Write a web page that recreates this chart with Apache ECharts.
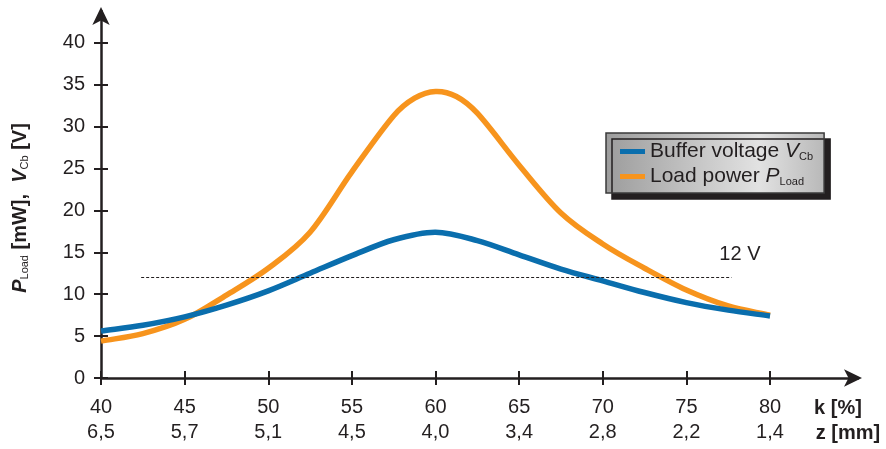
<!DOCTYPE html>
<html><head><meta charset="utf-8">
<script src="https://cdn.jsdelivr.net/npm/echarts@6/dist/echarts.min.js"></script>
<style>html,body{margin:0;padding:0;background:#fff}#c{width:886px;height:449px}</style>
</head><body><div id="c"></div>
<script>
// ---- data ----
const kVoltage = [40, 42.5, 45, 47.5, 50, 52.5, 55, 57.5, 60, 62.5, 65, 67.5, 70, 72.5, 75, 77.5, 80];
const bufferVoltage = [5.6, 6.3, 7.3, 8.7, 10.4, 12.5, 14.6, 16.5, 17.4, 16.4, 14.7, 13.0, 11.6, 10.2, 9.0, 8.1, 7.4];
const kPower = [40, 42.5, 45, 47.5, 50, 52.5, 55, 57.5, 58.75, 60, 61.25, 62.5, 65, 67.5, 70, 72.5, 75, 77.5, 80];
const loadPower = [4.4, 5.3, 7.0, 9.9, 13.1, 17.4, 24.6, 31.3, 33.4, 34.2, 33.6, 31.6, 25.4, 19.7, 16.0, 13.1, 10.5, 8.6, 7.5];
const kTicks = [40, 45, 50, 55, 60, 65, 70, 75, 80];
const zLabels = ['6,5', '5,7', '5,1', '4,5', '4,0', '3,4', '2,8', '2,2', '1,4'];
const yTicks = [0, 5, 10, 15, 20, 25, 30, 35, 40];
const thresholdLine = { value: 12, from: 42.4, to: 77.7, label: '12 V', labelAt: 78.2 };
const seriesNames = ['Buffer voltage', 'Load power'];

const FONT = '"Liberation Sans", Arial, sans-serif';
const INK = '#231f20';
const BLUE = '#0a6ead';
const ORANGE = '#f7941d';

const chart = echarts.init(document.getElementById('c'));
const xMin = 40, xMax = 85.26, yMin = 0, yMax = 43.8;

const pair = (xs, ys) => xs.map((x, i) => [x, ys[i]]);

// smooth curve through the data points, placed by the axes (api.coord)
function splinePath(api, xs, ys) {
  const pts = xs.map((x, i) => api.coord([x, ys[i]]));
  const n = pts.length;
  const m = pts.map((p, i) => {
    const a = pts[Math.max(0, i - 1)], b = pts[Math.min(n - 1, i + 1)];
    return (b[1] - a[1]) / (b[0] - a[0]);
  });
  let d = 'M' + pts[0][0] + ' ' + pts[0][1];
  for (let i = 0; i < n - 1; i++) {
    const p = pts[i], q = pts[i + 1], h = (q[0] - p[0]) / 3;
    d += ' C' + (p[0] + h) + ' ' + (p[1] + m[i] * h) + ' ' + (q[0] - h) + ' ' + (q[1] - m[i + 1] * h) + ' ' + q[0] + ' ' + q[1];
  }
  return d;
}
function curveSeries(name, xs, ys, color) {
  return {
    name, type: 'custom', data: pair(xs, ys), encode: { x: 0, y: 1 },
    itemStyle: { color }, silent: true,
    renderItem: (params, api) => params.dataIndex !== 0 ? null : {
      type: 'path',
      shape: { pathData: splinePath(api, xs, ys) },
      style: { fill: 'none', stroke: color, lineWidth: 5.5, lineJoin: 'round' }
    }
  };
}

const option = {
  animation: false,
  backgroundColor: '#fff',
  grid: { left: 101, right: 28, top: 11, bottom: 71, containLabel: false },
  xAxis: [{
    type: 'value', min: xMin, max: xMax, interval: 5,
    splitLine: { show: false },
    axisLine: { show: true, onZero: false, lineStyle: { color: INK, width: 2.5 }, symbol: ['none', 'arrow'], symbolSize: [13, 18], symbolOffset: [0, 4] },
    axisTick: { show: true, inside: false, length: 7, lineStyle: { color: INK, width: 2 }, customValues: kTicks },
    axisLabel: {
      customValues: kTicks, margin: 17, color: INK, fontFamily: FONT, fontSize: 20, lineHeight: 25,
      formatter: v => { const i = kTicks.indexOf(v); return i < 0 ? '' : v + '\n' + zLabels[i]; }
    }
  }, {
    type: 'value', min: xMin, max: xMax, position: 'bottom', show: true,
    splitLine: { show: false },
    axisLine: { show: false, onZero: false },
    axisTick: { show: true, inside: true, length: 7, lineStyle: { color: INK, width: 2 }, customValues: kTicks },
    axisLabel: { show: false }
  }],
  yAxis: [{
    type: 'value', min: yMin, max: yMax, interval: 5,
    splitLine: { show: false },
    axisLine: { show: true, onZero: false, lineStyle: { color: INK, width: 2.5 }, symbol: ['none', 'arrow'], symbolSize: [13, 18], symbolOffset: [0, 4] },
    axisTick: { show: true, inside: false, length: 7, lineStyle: { color: INK, width: 2 }, customValues: yTicks },
    axisLabel: { customValues: yTicks, margin: 16, color: INK, fontFamily: FONT, fontSize: 20 }
  }, {
    type: 'value', min: yMin, max: yMax, position: 'left', show: true,
    splitLine: { show: false },
    axisLine: { show: false, onZero: false },
    axisTick: { show: true, inside: true, length: 7, lineStyle: { color: INK, width: 2 }, customValues: yTicks },
    axisLabel: { show: false }
  }],
  legend: {
    left: 606, top: 133, orient: 'vertical',
    data: [seriesNames[0], seriesNames[1]],
    icon: 'rect', itemWidth: 25, itemHeight: 5, itemGap: 4,
    padding: [8, 11, 6, 14],
    borderColor: '#3a3a3a', borderWidth: 1.5, borderRadius: 0,
    backgroundColor: new echarts.graphic.LinearGradient(0, 0, 1, 0, [
      { offset: 0, color: '#9c9c9c' }, { offset: 0.7, color: '#e2e2e2' }, { offset: 1, color: '#b8b8b8' }
    ]),
    shadowColor: '#231f20', shadowBlur: 0.01, shadowOffsetX: 6, shadowOffsetY: 6,
    textStyle: {
      color: INK, fontFamily: FONT, fontSize: 21,
      rich: {
        t: { fontFamily: FONT, fontSize: 21, color: INK },
        i: { fontFamily: FONT, fontSize: 21, fontStyle: 'italic', color: INK },
        s: { fontFamily: FONT, fontSize: 11, color: INK, verticalAlign: 'bottom', padding: [9, 0, 0, 0] }
      }
    },
    formatter: n => n === seriesNames[0] ? '{t|Buffer voltage }{i|V}{s|Cb}' : '{t|Load power }{i|P}{s|Load}'
  },
  series: [
    curveSeries(seriesNames[1], kPower, loadPower, ORANGE),
    curveSeries(seriesNames[0], kVoltage, bufferVoltage, BLUE),
    {
      name: 'threshold', type: 'line', data: [], silent: true,
      markLine: {
        silent: true, symbol: ['none', 'none'], animation: false,
        lineStyle: { color: INK, type: [3, 2], width: 1 },
        label: { show: false },
        data: [[{ coord: [thresholdLine.from, thresholdLine.value] }, { coord: [thresholdLine.to, thresholdLine.value] }]]
      },
      markPoint: {
        silent: true, symbol: 'circle', symbolSize: 0, animation: false,
        label: { show: true, position: 'top', distance: 13, color: INK, fontFamily: FONT, fontSize: 20, formatter: thresholdLine.label },
        data: [{ coord: [thresholdLine.labelAt, thresholdLine.value] }]
      }
    }
  ],
  graphic: [{
    type: 'text', x: 20, y: 208, rotation: Math.PI / 2,
    style: {
      text: '{bi|P}{sub|Load}{b| [mW],  }{bi|V}{sub|Cb}{b| [V]}',
      align: 'center', verticalAlign: 'middle',
      rich: {
        b: { fontFamily: FONT, fontSize: 20, fontWeight: 'bold', fill: INK },
        bi: { fontFamily: FONT, fontSize: 20, fontWeight: 'bold', fontStyle: 'italic', fill: INK },
        sub: { fontFamily: FONT, fontSize: 11, fill: INK, verticalAlign: 'bottom', padding: [9, 0, 0, 0] }
      }
    }
  }, {
    type: 'text', x: 838, y: 408,
    style: { text: 'k [%]', align: 'center', verticalAlign: 'middle', fontFamily: FONT, fontSize: 20, fontWeight: 'bold', fill: INK }
  }, {
    type: 'text', x: 848, y: 433,
    style: { text: 'z [mm]', align: 'center', verticalAlign: 'middle', fontFamily: FONT, fontSize: 20, fontWeight: 'bold', fill: INK }
  }]
};
chart.setOption(option);
</script></body></html>
